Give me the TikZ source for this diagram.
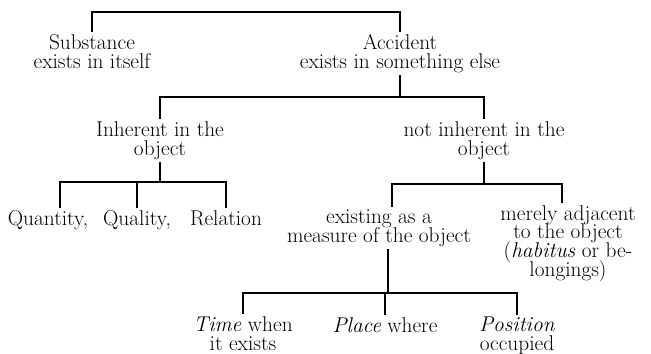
\documentclass[tikz,border=0pt]{standalone}
\usetikzlibrary{calc}
\newcommand{\lblfont}{\fontsize{16}{14}\selectfont\lineskiplimit=-20pt\relax}
\begin{document}
\begin{tikzpicture}[x=0.75pt,y=-0.75pt,
  lbl/.style={align=center, inner sep=2pt, anchor=base, font=\lblfont},
  conn/.style={line width=1pt, line cap=rect}]
\useasboundingbox (0,0) rectangle (651,354);
% nodes (anchor = baseline of last line)
\node[lbl] (sub) at (92,68) {Substance\\exists in itself};
\node[lbl] (acc) at (400,68) {Accident\\exists in something else};
\node[lbl] (inh) at (160,155) {Inherent in the\\object};
\node[lbl] (ninh) at (484,155) {not inherent in the\\object};
\node[lbl] (quan) at (48,225) {Quantity,};
\node[lbl] (qual) at (137,225) {Quality,};
\node[lbl] (rel) at (226,225) {Relation};
\node[lbl] (exi) at (379,242) {existing as a\\measure of the object};
\node[lbl] (adj) at (568,276) {merely adjacent\\to the object\\(\textit{habitus} or be-\\longings)};
\node[lbl] (time) at (243,350) {\textit{Time} when\\it exists};
\node[lbl] (place) at (385,332) {\textit{Place} where};
\node[lbl] (pos) at (517,350) {\textit{Position}\\occupied};
% bar coordinates
\coordinate (b1) at (245,12);
\coordinate (b2) at (320,97);
\coordinate (b3) at (140,182);
\coordinate (b4) at (480,184);
\coordinate (b5) at (380,293);
\coordinate (qn) at ($(quan.north)+(12,0)$);
\coordinate (en) at ($(exi.north)+(13,0)$);
\coordinate (an) at ($(adj.north)+(-6,0)$);
\coordinate (es) at ($(exi.south)+(9,0)$);
% connectors
\draw[conn] (sub.north) |- (b1) -| (acc.north);
\draw[conn] (acc.south) -- (acc.south |- b2);
\draw[conn] (inh.north) |- (b2) -| (ninh.north);
\draw[conn] (inh.south) -- (inh.south |- b3);
\draw[conn] (qn) |- (b3) -| (rel.north);
\draw[conn] (qual.north) -- (qual.north |- b3);
\draw[conn] (ninh.south) -- (ninh.south |- b4);
\draw[conn] (en) |- (b4) -| (an);
\draw[conn] (es) -- (es |- b5);
\draw[conn] (time.north) |- (b5) -| (pos.north);
\draw[conn] (place.north) -- (place.north |- b5);
\end{tikzpicture}
\end{document}
